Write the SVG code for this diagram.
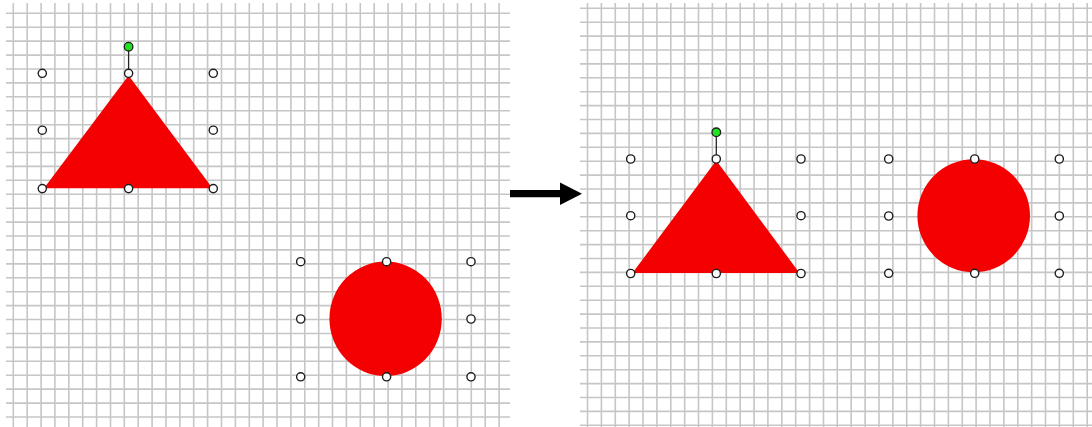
<svg xmlns="http://www.w3.org/2000/svg" width="1092" height="427" viewBox="0 0 1092 427">
<style>
.grid{stroke:#c6c6c6;stroke-width:1.6;fill:none}
.shape{fill:#f50000;stroke:none}
.h{fill:#ffffff;stroke:#1e1e1e;stroke-width:1.4}
.rot{fill:#22e022;stroke:#1e1e1e;stroke-width:1.3}
.stem{stroke:#262626;stroke-width:1.3}
</style>
<defs>
<marker id="ah" viewBox="0 0 22 22.6" refX="0.5" refY="11.3" markerWidth="22" markerHeight="22.6" markerUnits="userSpaceOnUse" orient="auto">
<path d="M0,0 L22,11.3 L0,22.6 Z" fill="#000000"/>
</marker>
</defs>
<rect width="1092" height="427" fill="#ffffff"/>
<g id="grid-left" class="grid">
<path d="M13.3,3V427M27.2,3V427M41.1,3V427M54.9,3V427M68.8,3V427M82.7,3V427M96.6,3V427M110.5,3V427M124.3,3V427M138.2,3V427M152.1,3V427M166,3V427M179.9,3V427M193.7,3V427M207.6,3V427M221.5,3V427M235.4,3V427M249.3,3V427M263.1,3V427M277,3V427M290.9,3V427M304.8,3V427M318.7,3V427M332.5,3V427M346.4,3V427M360.3,3V427M374.2,3V427M388.1,3V427M401.9,3V427M415.8,3V427M429.7,3V427M443.6,3V427M457.5,3V427M471.3,3V427M485.2,3V427M499.1,3V427"/>
<path d="M6,13.3H510M6,27.2H510M6,41.1H510M6,55.1H510M6,69H510M6,82.9H510M6,96.8H510M6,110.7H510M6,124.7H510M6,138.6H510M6,152.5H510M6,166.4H510M6,180.3H510M6,194.3H510M6,208.2H510M6,222.1H510M6,236H510M6,249.9H510M6,263.9H510M6,277.8H510M6,291.7H510M6,305.6H510M6,319.5H510M6,333.5H510M6,347.4H510M6,361.3H510M6,375.2H510M6,389.1H510M6,403.1H510M6,417H510"/>
</g>
<g id="grid-right" class="grid">
<path d="M587.5,3V427M601.4,3V427M615.3,3V427M629.1,3V427M643,3V427M656.9,3V427M670.8,3V427M684.7,3V427M698.5,3V427M712.4,3V427M726.3,3V427M740.2,3V427M754.1,3V427M767.9,3V427M781.8,3V427M795.7,3V427M809.6,3V427M823.5,3V427M837.3,3V427M851.2,3V427M865.1,3V427M879,3V427M892.9,3V427M906.7,3V427M920.6,3V427M934.5,3V427M948.4,3V427M962.3,3V427M976.1,3V427M990,3V427M1003.9,3V427M1017.8,3V427M1031.7,3V427M1045.5,3V427M1059.4,3V427M1073.3,3V427M1087.2,3V427"/>
<path d="M580,8.3H1092M580,22.2H1092M580,36.1H1092M580,50H1092M580,63.9H1092M580,77.8H1092M580,91.7H1092M580,105.6H1092M580,119.5H1092M580,133.4H1092M580,147.3H1092M580,161.2H1092M580,175.1H1092M580,189H1092M580,202.9H1092M580,216.8H1092M580,230.7H1092M580,244.6H1092M580,258.5H1092M580,272.4H1092M580,286.3H1092M580,300.2H1092M580,314.1H1092M580,328H1092M580,341.9H1092M580,355.8H1092M580,369.7H1092M580,383.6H1092M580,397.5H1092M580,411.4H1092M580,425.3H1092"/>
</g>
<g id="triangle-before">
<polygon class="shape" points="128.6,75.5 44,188.2 212.5,188.2"/>
<line class="stem" x1="128.6" y1="46.7" x2="128.6" y2="73.3"/>
<circle class="rot" cx="128.6" cy="46.7" r="4.3"/>
<circle class="h" cx="42.3" cy="73.3" r="4.1"/>
<circle class="h" cx="128.6" cy="73.3" r="4.1"/>
<circle class="h" cx="213.3" cy="73.3" r="4.1"/>
<circle class="h" cx="42.3" cy="130.2" r="4.1"/>
<circle class="h" cx="213.3" cy="130.2" r="4.1"/>
<circle class="h" cx="42.3" cy="188.6" r="4.1"/>
<circle class="h" cx="128.6" cy="188.6" r="4.1"/>
<circle class="h" cx="213.3" cy="188.6" r="4.1"/>
</g>
<g id="circle-before">
<ellipse class="shape" cx="385.6" cy="318.8" rx="56.2" ry="57.2"/>
<circle class="h" cx="300.7" cy="261.7" r="4.1"/>
<circle class="h" cx="386.6" cy="261.7" r="4.1"/>
<circle class="h" cx="471" cy="261.7" r="4.1"/>
<circle class="h" cx="300.7" cy="319" r="4.1"/>
<circle class="h" cx="471" cy="319" r="4.1"/>
<circle class="h" cx="300.7" cy="376.8" r="4.1"/>
<circle class="h" cx="386.6" cy="376.8" r="4.1"/>
<circle class="h" cx="471" cy="376.8" r="4.1"/>
</g>
<g id="triangle-after">
<polygon class="shape" points="716.3,160.5 632.5,273 799.5,273"/>
<line class="stem" x1="716.3" y1="132.3" x2="716.3" y2="159"/>
<circle class="rot" cx="716.3" cy="132.3" r="4.3"/>
<circle class="h" cx="630.7" cy="159" r="4.1"/>
<circle class="h" cx="716.3" cy="159" r="4.1"/>
<circle class="h" cx="801" cy="159" r="4.1"/>
<circle class="h" cx="630.7" cy="215.7" r="4.1"/>
<circle class="h" cx="801" cy="215.7" r="4.1"/>
<circle class="h" cx="630.7" cy="273.5" r="4.1"/>
<circle class="h" cx="716.3" cy="273.5" r="4.1"/>
<circle class="h" cx="801" cy="273.5" r="4.1"/>
</g>
<g id="circle-after">
<ellipse class="shape" cx="973.7" cy="215.7" rx="56.3" ry="56.5"/>
<circle class="h" cx="888.7" cy="159" r="4.1"/>
<circle class="h" cx="974.7" cy="159" r="4.1"/>
<circle class="h" cx="1059.3" cy="159" r="4.1"/>
<circle class="h" cx="888.7" cy="216" r="4.1"/>
<circle class="h" cx="1059.3" cy="216" r="4.1"/>
<circle class="h" cx="888.7" cy="273.3" r="4.1"/>
<circle class="h" cx="974.7" cy="273.3" r="4.1"/>
<circle class="h" cx="1059.3" cy="273.3" r="4.1"/>
</g>
<g id="connectors">
<line x1="510" y1="193.7" x2="560.5" y2="193.7" stroke="#000000" stroke-width="7.3" marker-end="url(#ah)"/>
</g>
</svg>
